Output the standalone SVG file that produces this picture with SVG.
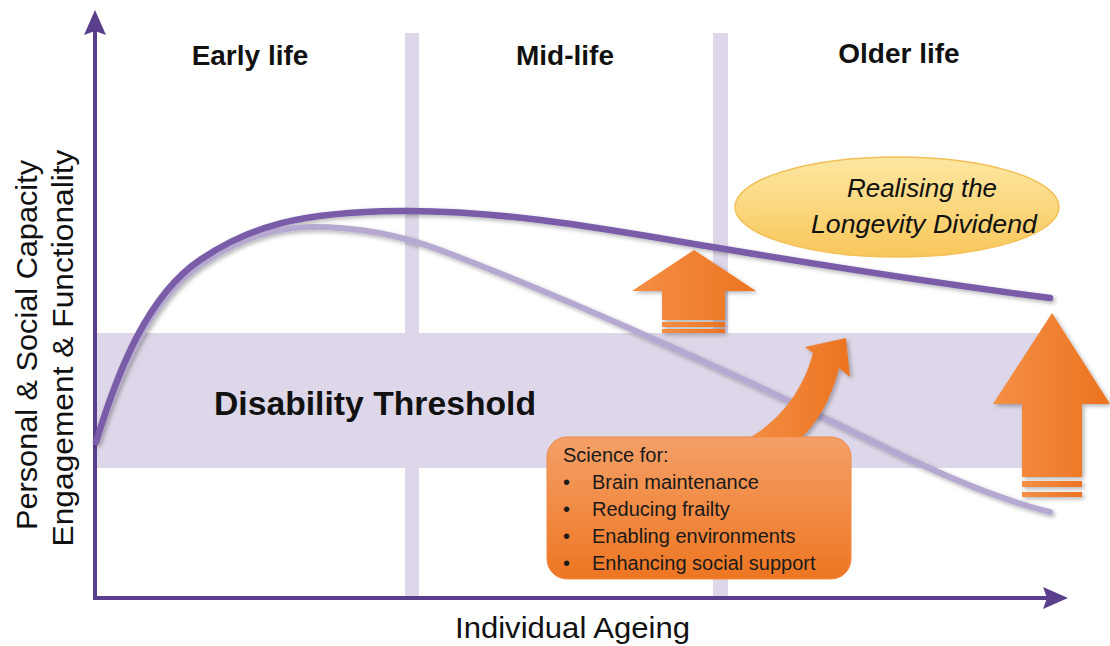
<svg xmlns="http://www.w3.org/2000/svg" width="1110" height="646" viewBox="0 0 1110 646">
  <defs>
    <style>
      .band { fill: #ddd7e9; }
      .axis { stroke: #5b3f8c; stroke-width: 4; fill: none; }
      .axis-head { fill: #5b3f8c; }
      .curve-dark { stroke: #7a5ca8; stroke-width: 6.5; fill: none; stroke-linecap: round; }
      .curve-light { stroke: #b5a8d1; stroke-width: 6; fill: none; stroke-linecap: round; }
      .title { font-family: "Liberation Sans", Arial, sans-serif; font-weight: bold; font-size: 28px; fill: #111; text-anchor: middle; }
      .label { font-family: "Liberation Sans", Arial, sans-serif; font-size: 30px; fill: #111; }
      .box-text { font-family: "Liberation Sans", Arial, sans-serif; font-size: 20px; fill: #1a1a1a; }
      .oval-text { font-family: "Liberation Sans", Arial, sans-serif; font-style: italic; font-size: 25px; fill: #111; text-anchor: middle; }
    </style>
    <linearGradient id="orangeH" x1="0" y1="0" x2="1" y2="0">
      <stop offset="0" stop-color="#f48f45"/>
      <stop offset="1" stop-color="#ec7320"/>
    </linearGradient>
    <linearGradient id="orangeV" x1="0" y1="0" x2="0" y2="1">
      <stop offset="0" stop-color="#f4a068"/>
      <stop offset="1" stop-color="#ee7622"/>
    </linearGradient>
    <linearGradient id="yellowV" x1="0" y1="0" x2="0" y2="1">
      <stop offset="0" stop-color="#fde7a2"/>
      <stop offset="1" stop-color="#f8c75a"/>
    </linearGradient>
    <filter id="shadow" x="-20%" y="-20%" width="140%" height="140%">
      <feDropShadow dx="2" dy="2" stdDeviation="2" flood-color="#000" flood-opacity="0.3"/>
    </filter>
  </defs>

  <!-- life-stage dividers and threshold band -->
  <g id="bands">
    <rect class="band" x="405" y="33" width="14" height="565"/>
    <rect class="band" x="713" y="33" width="15" height="565"/>
    <rect class="band" x="97" y="333" width="953" height="135"/>
  </g>

  <!-- axes -->
  <g id="connectors">
    <line class="axis" x1="95" y1="600" x2="95" y2="30"/>
    <path class="axis-head" d="M95,10 L106,35 L95,31 L84,35 Z"/>
    <line class="axis" x1="93" y1="598" x2="1048" y2="598"/>
    <path class="axis-head" d="M1068,598 L1043,609 L1047,598 L1043,587 Z"/>
  </g>

  <!-- capacity curves -->
  <g id="curves" filter="url(#shadow)">
    <path class="curve-light" d="M96,442 C120,370 150,300 200,265 C240,238 275,227 313,227 C360,227 400,235 440,250 C560,295 760,385 870,440 C940,475 1000,500 1050,512"/>
    <path class="curve-dark" d="M96,442 C118,370 148,295 200,260 C250,226 300,212 400,211 C500,210 600,228 700,245 C820,265 950,285 1050,298"/>
  </g>

  <!-- stage titles -->
  <g id="titles">
    <text class="title" x="250" y="65">Early life</text>
    <text class="title" x="565" y="65">Mid-life</text>
    <text class="title" x="899" y="63">Older life</text>
  </g>

  <g id="threshold-label">
    <text x="214" y="415" font-family="Liberation Sans, Arial, sans-serif" font-weight="bold" font-size="33" fill="#111" textLength="322" lengthAdjust="spacingAndGlyphs">Disability Threshold</text>
  </g>

  <!-- axis titles -->
  <g id="y-label">
    <text class="label" transform="translate(37,345) rotate(-90)" text-anchor="middle" textLength="370" lengthAdjust="spacingAndGlyphs">Personal &amp; Social Capacity</text>
    <text class="label" transform="translate(73,348) rotate(-90)" text-anchor="middle" textLength="397" lengthAdjust="spacingAndGlyphs">Engagement &amp; Functionality</text>
  </g>
  <g id="x-label">
    <text class="label" x="455" y="638" font-size="29" textLength="235" lengthAdjust="spacingAndGlyphs">Individual  Ageing</text>
  </g>

  <!-- longevity dividend oval -->
  <g id="dividend">
    <ellipse cx="897" cy="207" rx="162" ry="50" fill="url(#yellowV)" stroke="#f2bf55" stroke-width="1.5"/>
    <text class="oval-text" x="922" y="197" textLength="150" lengthAdjust="spacingAndGlyphs">Realising the</text>
    <text class="oval-text" x="924" y="233" textLength="226" lengthAdjust="spacingAndGlyphs">Longevity Dividend</text>
  </g>

  <!-- mid-life up arrow -->
  <g id="arrow-mid" filter="url(#shadow)">
    <path d="M694,250 L756,291 L725,291 L725,320 L662,320 L662,291 L632,291 Z" fill="url(#orangeH)"/>
    <rect x="662" y="322" width="63" height="5" fill="url(#orangeH)"/>
    <rect x="662" y="329" width="63" height="4" fill="url(#orangeH)"/>
  </g>

  <!-- older-life up arrow -->
  <g id="arrow-older" filter="url(#shadow)">
    <path d="M1052,313 L1110,404 L1082,404 L1082,477 L1022,477 L1022,404 L993,404 Z" fill="url(#orangeH)"/>
    <rect x="1022" y="481" width="60" height="6" fill="url(#orangeH)"/>
    <rect x="1022" y="492" width="60" height="5" fill="url(#orangeH)"/>
  </g>

  <!-- curved arrow rising from the science box -->
  <g id="arrow-curved" filter="url(#shadow)">
    <path d="M742,442 C775,425 802,395 813,353 L805,347 L846,338 L850,377 L839,368 C831,400 817,424 797,442 Z" fill="url(#orangeH)"/>
  </g>

  <!-- science box -->
  <g id="science-box">
    <rect x="547" y="437" width="304" height="142" rx="20" fill="url(#orangeV)" stroke="#ef8a44" stroke-width="1"/>
    <text class="box-text" x="563" y="462">Science for:</text>
    <g class="box-text">
      <text x="563" y="489">•</text>
      <text x="592" y="489">Brain maintenance</text>
      <text x="563" y="516">•</text>
      <text x="592" y="516">Reducing frailty</text>
      <text x="563" y="543">•</text>
      <text x="592" y="543">Enabling environments</text>
      <text x="563" y="570">•</text>
      <text x="592" y="570">Enhancing social support</text>
    </g>
  </g>
</svg>
